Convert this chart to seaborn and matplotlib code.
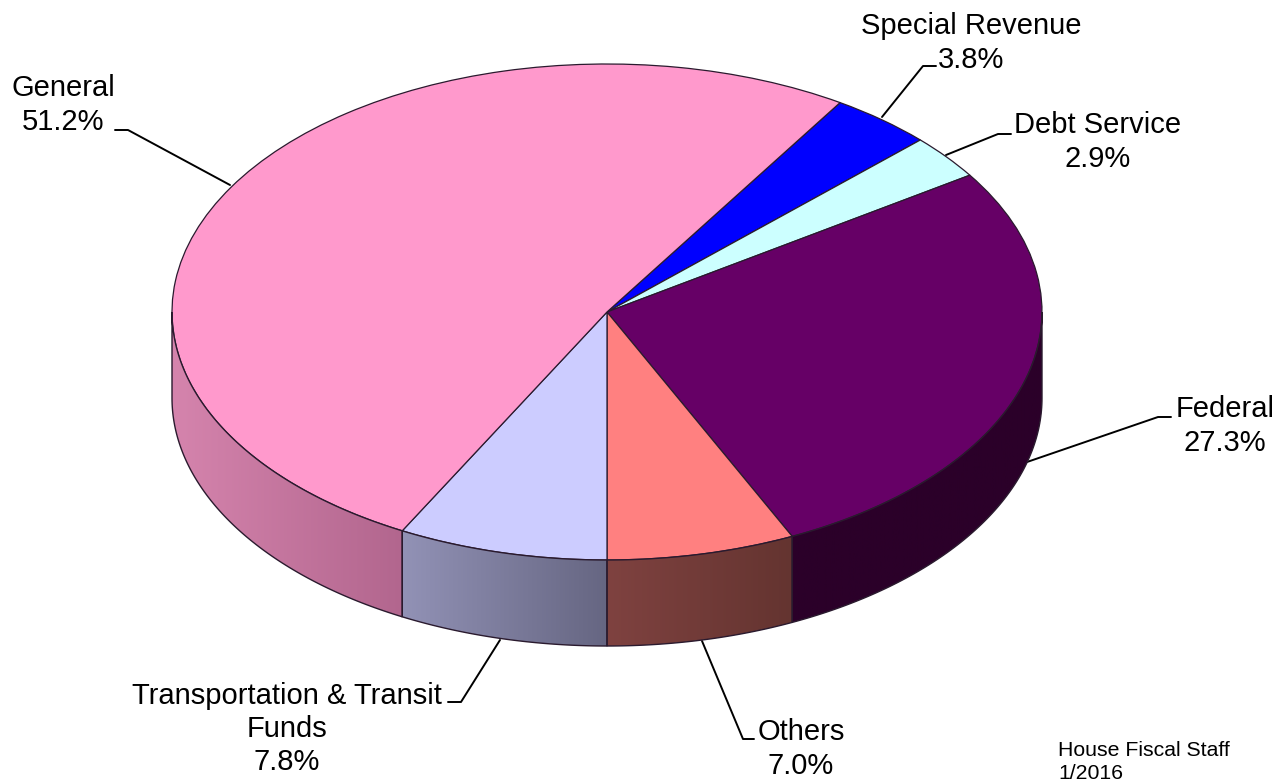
import numpy as np
import matplotlib
matplotlib.use("Agg")
import matplotlib.pyplot as plt
from matplotlib.colors import LinearSegmentedColormap
from matplotlib.patches import Polygon
import seaborn as sns

# clockwise, starting at the General / Special Revenue boundary
funds = ["Special Revenue", "Debt Service", "Federal", "Others", "Transportation & Transit\nFunds", "General"]
shares = [3.8, 2.9, 27.3, 7.0, 7.8, 51.2]
top_colors = ["#0000ff", "#ccffff", "#660066", "#ff8080", "#ccccff", "#ff99cc"]
# wall colours, left end then right end of each visible wall
wall_left = {"Federal": "#2b0029", "Others": "#7f4240", "Transportation & Transit\nFunds": "#9292b6", "General": "#d584ad"}
wall_right = {"Federal": "#2b0029", "Others": "#643430", "Transportation & Transit\nFunds": "#666682", "General": "#b2668e"}

W, H = 1282, 781
cx, cy, rx, ry, depth_px = 607, 312, 435, 248, 86
first_angle = 32.4  # degrees clockwise from 12 o'clock
edge = "#2a1a2e"

sns.set_theme(style="white")
plt.rcParams["font.family"] = ["Liberation Sans", "DejaVu Sans"]

fig = plt.figure(figsize=(W / 100, H / 100), dpi=100, facecolor="white")
ax = fig.add_axes([0, 0, 1, 1])
ax.pie(shares, colors=top_colors, startangle=90 - first_angle, counterclock=False,
       wedgeprops={"edgecolor": edge, "linewidth": 0.9})
depth = depth_px / ry

bounds = first_angle + np.cumsum([0] + shares) * 3.6

# side wall of the disc, only the arc between 90 and 270 degrees can be seen
for i, fund in enumerate(funds):
    start, end = max(bounds[i], 90), min(bounds[i + 1], 270)
    if start >= end:
        continue
    theta = np.radians(np.linspace(start, end, 90))
    x = np.sin(theta)
    y = np.cos(theta)
    cmap = LinearSegmentedColormap.from_list(str(i), [wall_left[fund], wall_right[fund]])
    outline = Polygon(np.column_stack([np.r_[x, x[::-1]], np.r_[y, y[::-1] - depth]]),
                      facecolor="none", edgecolor=edge, lw=1.0, zorder=3)
    ax.add_patch(outline)
    img = ax.imshow(np.linspace(0, 1, 256)[None, :], cmap=cmap, aspect="auto", zorder=2,
                    extent=(x.min(), x.max(), (y - depth).min(), y.max()))
    img.set_clip_path(outline)

ax.set_aspect("auto")
ax.set_xlim(-cx / rx, (W - cx) / rx)
ax.set_ylim(-(H - cy) / ry, cy / ry)

def fx(x):
    return x / W

def fy(y):
    return 1 - y / H

leaders = [
    [(882, 117), (923, 66), (936, 66)],
    [(946, 155), (998, 134), (1011, 134)],
    [(1027, 462), (1158, 417), (1171, 417)],
    [(702, 641), (743, 739), (754, 739)],
    [(500, 640), (461, 702), (448, 702)],
    [(230, 185), (128, 130), (115, 130)],
]
label_pos = [(971, 43), (1098, 142), (1225, 426), (801, 749), (287, 729), (63, 105)]

for fund, share, line, pos in zip(funds, shares, leaders, label_pos):
    ax.plot([fx(p[0]) for p in line], [fy(p[1]) for p in line], color="black", lw=1.4,
            transform=fig.transFigure, clip_on=False, zorder=1)
    ax.text(fx(pos[0]), fy(pos[1]), f"{fund}\n{share:.1f}%", transform=fig.transFigure,
            ha="center", va="center", fontsize=21, linespacing=1.24, color="black")

ax.text(fx(1058), fy(741), "House Fiscal Staff\n1/2016", transform=fig.transFigure,
        ha="left", va="top", fontsize=15.3, linespacing=1.25, color="black")

fig.savefig("out.png", dpi=100)
